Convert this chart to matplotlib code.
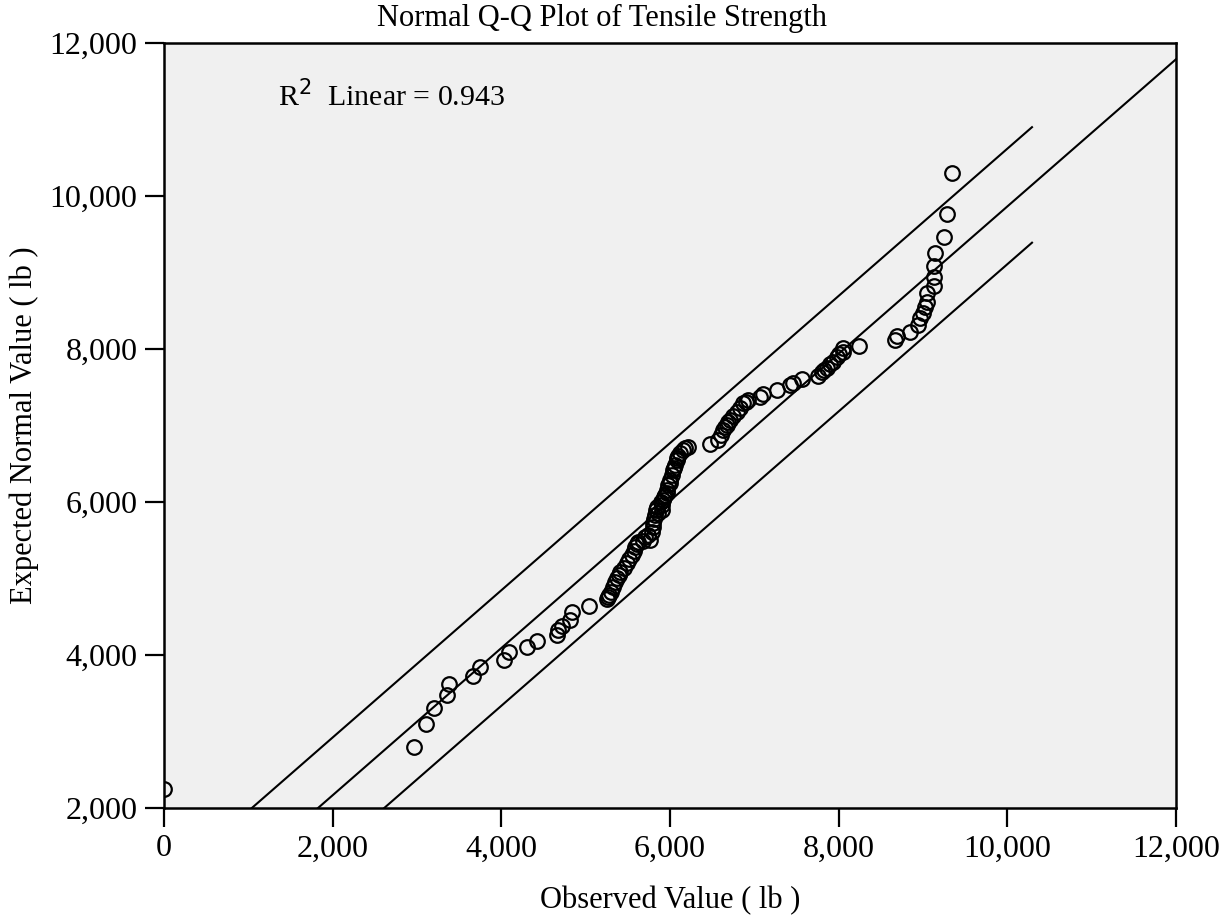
import matplotlib
matplotlib.use("Agg")
from matplotlib import pyplot as plt
from matplotlib.ticker import FuncFormatter
import numpy as np

plt.rcParams['font.family'] = ['Liberation Serif', 'DejaVu Serif']

# observed tensile strength (lb) and expected normal value (lb)
observed = [
    0, 2960, 3110, 3200, 3360, 3380, 3660, 3750, 4030, 4090,
    4300, 4420, 4660, 4670, 4720, 4810, 4840, 5040, 5250, 5265,
    5280, 5300, 5320, 5345, 5370, 5390, 5410, 5450, 5490, 5520,
    5550, 5570, 5590, 5610, 5620, 5680, 5700, 5740, 5760, 5790,
    5795, 5800, 5810, 5820, 5830, 5850, 5860, 5890, 5905, 5910,
    5920, 5930, 5940, 5960, 5965, 5980, 6000, 6000, 6020, 6035,
    6050, 6060, 6080, 6085, 6100, 6120, 6150, 6180, 6215, 6475,
    6570, 6600, 6630, 6650, 6676, 6690, 6712, 6750, 6795, 6830,
    6866, 6900, 6925, 7067, 7103, 7269, 7423, 7459, 7565, 7755,
    7803, 7830, 7862, 7900, 7933, 7980, 8010, 8052, 8052, 8241,
    8668, 8692, 8846, 8941, 8965, 9000, 9024, 9048, 9048, 9131,
    9131, 9131, 9143, 9249, 9285, 9344,
]
expected = [
    2250, 2800, 3100, 3310, 3480, 3620, 3730, 3840, 3940, 4040,
    4110, 4180, 4260, 4330, 4380, 4460, 4560, 4640, 4730, 4755,
    4780, 4830, 4890, 4950, 5010, 5050, 5085, 5140, 5200, 5255,
    5310, 5360, 5410, 5445, 5480, 5490, 5540, 5570, 5500, 5610,
    5670, 5725, 5780, 5830, 5900, 5930, 5860, 6000, 5895, 5960,
    6025, 6060, 6090, 6120, 6155, 6220, 6250, 6290, 6350, 6420,
    6450, 6480, 6570, 6550, 6600, 6640, 6680, 6705, 6720, 6760,
    6810, 6870, 6940, 6975, 7006, 7040, 7072, 7120, 7176, 7230,
    7294, 7310, 7333, 7373, 7412, 7464, 7529, 7556, 7608, 7647,
    7699, 7720, 7752, 7800, 7830, 7895, 7930, 7961, 8013, 8039,
    8118, 8170, 8222, 8314, 8405, 8471, 8549, 8614, 8732, 8824,
    8941, 9085, 9255, 9464, 9765, 10301,
]

# fit line and band
fit_intercept = 243
fit_slope = 0.962
band_offset = 755
band_end = 10293
r_squared = 0.943

fig = plt.figure(figsize=(12.32, 9.15), dpi=100)
ax = fig.add_axes([0.1331, 0.1169, 0.8214, 0.8361])
ax.set_facecolor('#f0f0f0')

x_fit = np.array([0, 12000])
ax.plot(x_fit, fit_intercept + fit_slope * x_fit, color='black', lw=1.5)
bx = np.array([0, band_end])
ax.plot(bx, fit_intercept + band_offset + fit_slope * bx, color='black', lw=1.5)
ax.plot(bx, fit_intercept - band_offset + fit_slope * bx, color='black', lw=1.5)

ax.plot(observed, expected, 'o', mfc='none', mec='black', ms=10.5, mew=1.6)

ax.set_xlim(0, 12000)
ax.set_ylim(2000, 12000)
ax.set_xticks(range(0, 12001, 2000))
ax.set_yticks(range(2000, 12001, 2000))
fmt = FuncFormatter(lambda v, p: f"{int(v):,}")
ax.xaxis.set_major_formatter(fmt)
ax.yaxis.set_major_formatter(fmt)
ax.tick_params(direction='out', length=14, width=1.6, labelsize=23, pad=5)
for s in ax.spines.values():
    s.set_linewidth(1.8)

ax.text(1350, 11300, f"R$^2$  Linear = {r_squared}", fontsize=21.5, va='center', ha='left')
fig.text(0.489, 0.980, "Normal Q-Q Plot of Tensile Strength", fontsize=22,
         ha='center', va='center')
ax.set_xlabel("Observed Value ( lb )", fontsize=22, labelpad=16)
ax.set_ylabel("Expected Normal Value ( lb )", fontsize=22, labelpad=8)

fig.savefig("out.png", dpi=100)
